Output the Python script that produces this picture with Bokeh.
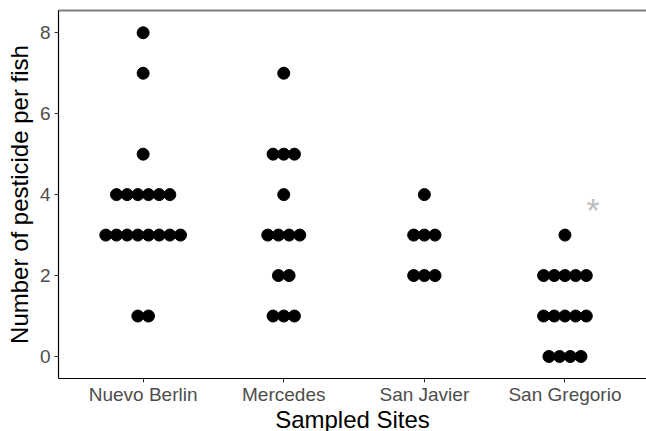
from bokeh.plotting import figure
from bokeh.models import Range1d, FixedTicker, LinearAxis, ColumnDataSource
from bokeh.embed import file_html
from bokeh.resources import INLINE
from bokeh.core.properties import value

# ---- data ----
sites = ["Nuevo Berlin", "Mercedes", "San Javier", "San Gregorio"]
nuevo_berlin = [8, 7, 5, 4, 4, 4, 4, 4, 4, 3, 3, 3, 3, 3, 3, 3, 3, 1, 1]
mercedes = [7, 5, 5, 5, 4, 3, 3, 3, 3, 2, 2, 1, 1, 1]
san_javier = [4, 3, 3, 3, 2, 2, 2]
san_gregorio = [3, 2, 2, 2, 2, 2, 1, 1, 1, 1, 1, 0, 0, 0, 0]
y_ticks = [0, 2, 4, 6, 8]
star_site = 3.20      # position of the "*" annotation (category units)
star_level = 3.72

FONT = "Liberation Sans"
step = 0.0759  # horizontal spacing between stacked dots (category units)

xs, ys = [], []
for i, vals in enumerate([nuevo_berlin, mercedes, san_javier, san_gregorio]):
    for v in sorted(set(vals)):
        n = vals.count(v)
        for j in range(n):
            xs.append(i + (j - (n - 1) / 2) * step)
            ys.append(v)
src = ColumnDataSource(dict(x=xs, y=ys))

FW, FH = 588, 368
p = figure(output_backend="svg", toolbar_location=None,
           frame_width=FW, frame_height=FH,
           min_border_left=58, min_border_right=0,
           min_border_top=10, min_border_bottom=53,
           x_range=Range1d(-0.602, 3.58), y_range=Range1d(-0.544, 8.55))
p.xgrid.visible = False
p.ygrid.visible = False
p.outline_line_color = None
p.background_fill_color = "white"
p.border_fill_color = "white"

p.scatter("x", "y", source=src, size=12, color="black")

p.text(x=[star_site], y=[star_level], text=["*"], text_color="#bdbdbd",
       text_font=value(FONT), text_font_size="34px",
       text_align="center", text_baseline="middle", y_offset=4)

# axes
xa = p.xaxis[0]
xa.ticker = FixedTicker(ticks=list(range(len(sites))))
xa.major_label_overrides = {i: s for i, s in enumerate(sites)}
xa.axis_label = "Sampled Sites"
ya = p.yaxis[0]
ya.ticker = FixedTicker(ticks=y_ticks)
ya.axis_label = "Number of pesticide per fish"

for ax in (xa, ya):
    ax.axis_line_color = "black"
    ax.axis_line_width = 1.2
    ax.major_tick_line_color = "#333333"
    ax.major_tick_out = 4
    ax.major_tick_in = 0
    ax.minor_tick_line_color = None
    ax.minor_tick_out = 0
    ax.minor_tick_in = 0
    ax.major_label_text_font = FONT
    ax.major_label_text_font_size = "19px"
    ax.major_label_text_color = "#4d4d4d"
    ax.axis_label_text_font = FONT
    ax.axis_label_text_font_size = "24px"
    ax.axis_label_text_font_style = "normal"
    ax.axis_label_text_color = "black"

xa.major_label_standoff = 1
xa.axis_label_standoff = -2
ya.major_label_standoff = 4
ya.axis_label_standoff = 4

top = LinearAxis(ticker=FixedTicker(ticks=[]), axis_line_color="#7f7f7f",
                 axis_line_width=2, major_tick_line_color=None,
                 minor_tick_line_color=None, major_tick_out=0, major_tick_in=0,
                 minor_tick_out=0, minor_tick_in=0, major_label_standoff=0,
                 major_label_text_font_size="0px")
p.add_layout(top, "above")

open("out.html", "w").write(file_html(p, INLINE))
